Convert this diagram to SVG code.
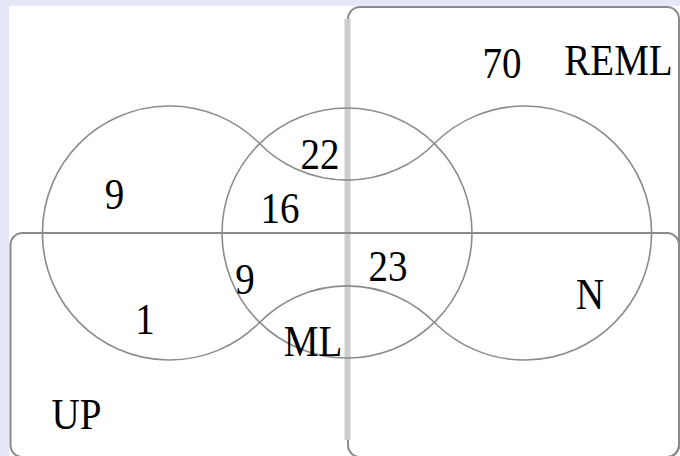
<svg xmlns="http://www.w3.org/2000/svg" width="680" height="456" viewBox="0 0 680 456">
  <style>
    .set { fill: none; stroke: #8c8c8c; stroke-width: 1.6; }
    .box { fill: none; stroke: #8a8a8a; stroke-width: 2; }
    .lbl { font-family: "Liberation Serif", "Times New Roman", serif; font-size: 39px; fill: #000; text-anchor: middle; }
  </style>
  <rect x="0" y="0" width="680" height="456" fill="#e6e6fa"/>
  <rect x="9" y="6" width="671" height="450" fill="#ffffff"/>

  <g id="set-reml">
    <rect class="box" x="348" y="7" width="331" height="450" rx="12" ry="12"/>
    <line x1="347.5" y1="19" x2="347.5" y2="440" stroke="#cdcdcd" stroke-width="6"/>
    <text class="lbl" transform="translate(502,78) scale(1,1.13)">70</text>
    <text class="lbl" transform="translate(618.5,75) scale(1,1.13)">REML</text>
  </g>

  <g id="set-up">
    <rect class="box" x="10.5" y="233" width="668.5" height="224" rx="12" ry="12"/>
    <text class="lbl" transform="translate(76.5,429) scale(1,1.13)">UP</text>
  </g>

  <g id="set-n">
    <path class="set" d="M 258 142 A 127 127 0 1 0 258 324 A 123 123 0 0 1 436 324 A 127 127 0 1 0 436 142 A 123 123 0 0 1 258 142 Z"/>
    <text class="lbl" transform="translate(590,309) scale(1,1.13)">N</text>
  </g>

  <g id="set-ml">
    <circle class="set" cx="347" cy="233" r="125"/>
    <text class="lbl" transform="translate(313,356) scale(1,1.13)">ML</text>
  </g>

  <g id="counts">
    <text class="lbl" transform="translate(114.5,209) scale(1,1.13)">9</text>
    <text class="lbl" transform="translate(145,334) scale(1,1.13)">1</text>
    <text class="lbl" transform="translate(320,169) scale(1,1.13)">22</text>
    <text class="lbl" transform="translate(280,223) scale(1,1.13)">16</text>
    <text class="lbl" transform="translate(245,294) scale(1,1.13)">9</text>
    <text class="lbl" transform="translate(388,281) scale(1,1.13)">23</text>
  </g>
</svg>
